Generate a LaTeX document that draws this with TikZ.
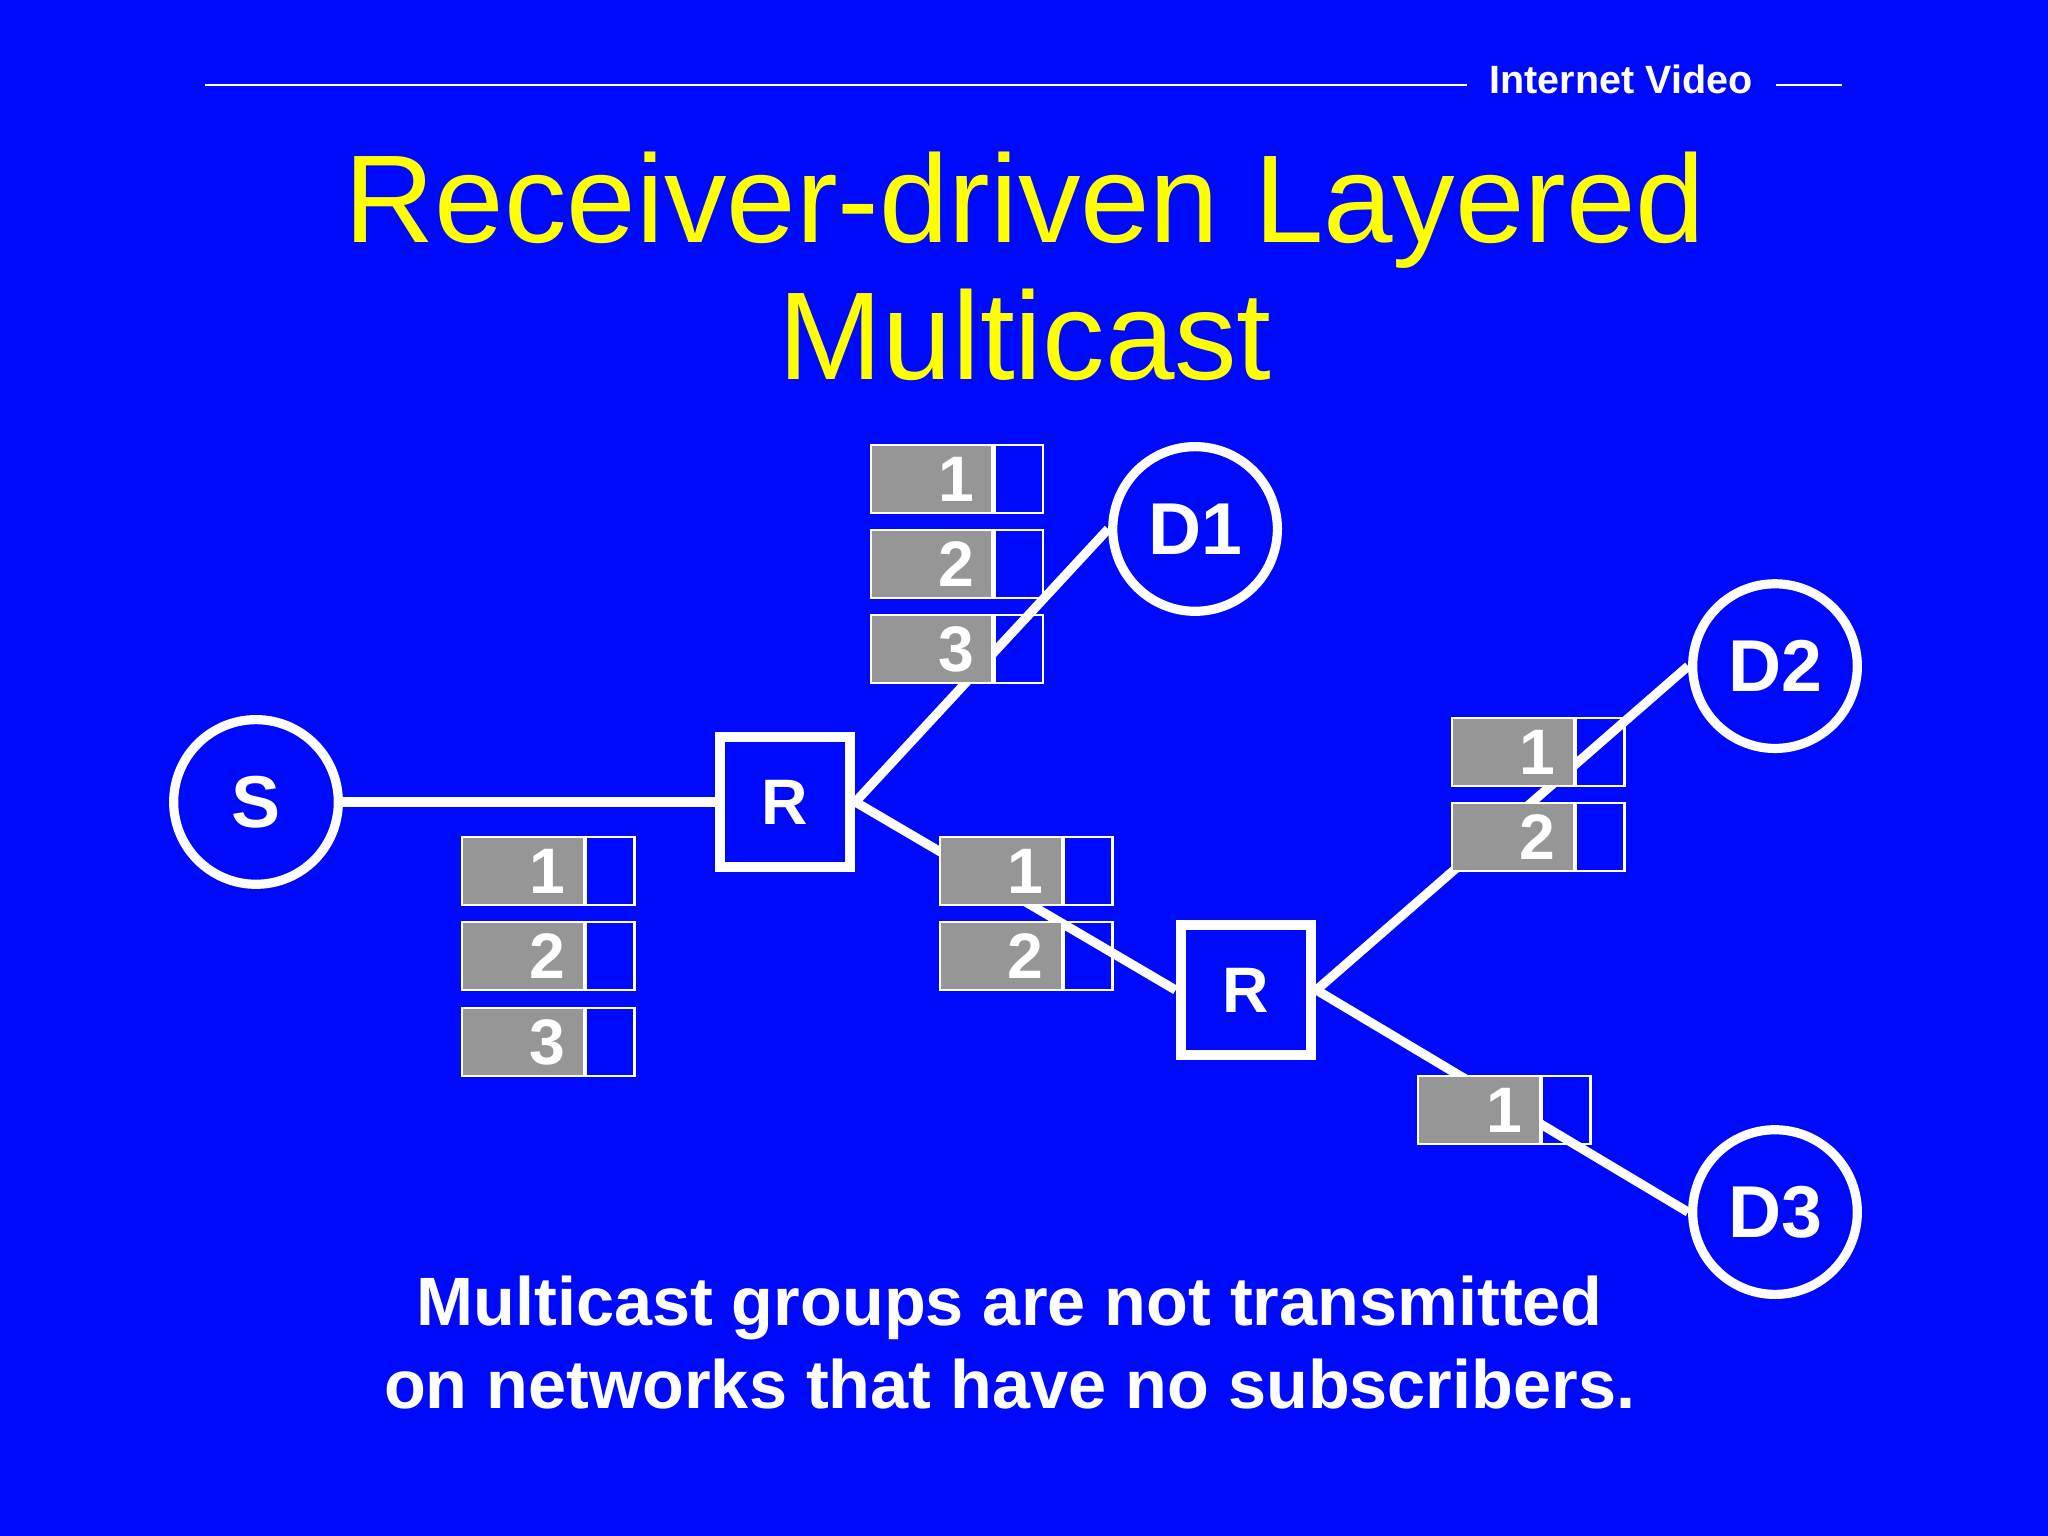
\documentclass[tikz,border=0pt]{standalone}
\usepackage{fontspec}
\setmainfont{Liberation Sans}
\definecolor{bg}{RGB}{0,10,250}
\definecolor{ttl}{RGB}{255,255,0}
\definecolor{pk}{RGB}{150,150,150}
\tikzset{
  ep/.style={circle,draw=white,line width=2pt,minimum size=1.26cm,inner sep=0pt,text=white,font=\bfseries\fontsize{16}{18}\selectfont},
  rt/.style={rectangle,draw=white,line width=2.2pt,minimum size=1.0cm,inner sep=0pt,text=white,font=\bfseries\fontsize{14}{18}\selectfont},
  lnk/.style={white,line width=2pt},
  pg/.style={rectangle,fill=pk,draw=white,line width=0.5pt,minimum width=0.93cm,minimum height=0.52cm,inner sep=0pt,anchor=north west,text=white,font=\bfseries\fontsize{14}{16}\selectfont},
  pe/.style={rectangle,draw=white,line width=0.5pt,minimum width=0.37cm,minimum height=0.52cm,inner sep=0pt,anchor=north west}
}
\newcommand{\pkt}[4]{%
  \node[pg] (#1g) at (#2,#3) {\hspace*{0.38cm}#4};
  \node[pe] (#1e) at (#1g.north east) {};}
\begin{document}
\begin{tikzpicture}[x=0.01cm,y=-0.01cm]
\fill[bg] (0,0) rectangle (1568,1176);
\useasboundingbox (0,0) rectangle (1568,1176);
\coordinate (h1) at (157,65); \coordinate (h2) at (1123,65);
\coordinate (h3) at (1360,65); \coordinate (h4) at (1410,65);
\draw[white,line width=0.6pt] (h1)--(h2) (h3)--(h4);
\node[text=white,font=\bfseries\fontsize{8.6}{10}\selectfont] (hdr) at (1241,61) {Internet Video};
\node[text=ttl,align=center,font=\fontsize{27.2}{30}\selectfont] (title) at (785,204) {Receiver-driven Layered\\Multicast};
\node[ep] (S) at (196,614) {S};
\node[rt] (R1) at (601,614) {R};
\node[rt] (R2) at (954,758) {R};
\node[ep] (D1) at (915,405) {D1};
\node[ep] (D2) at (1359,510) {D2};
\node[ep] (D3) at (1359,928) {D3};
\draw[lnk] (S)--(R1); \draw[lnk] (R1.east)--(D1.west); \draw[lnk] (R1.east)--(R2.west);
\draw[lnk] (R2.east)--(D2.west); \draw[lnk] (R2.east)--(D3.west);
\pkt{a1}{353}{640}{1}\pkt{a2}{353}{705}{2}\pkt{a3}{353}{771}{3}
\pkt{b1}{666}{340}{1}\pkt{b2}{666}{405}{2}\pkt{b3}{666}{470}{3}
\pkt{c1}{719}{640}{1}\pkt{c2}{719}{705}{2}
\pkt{d1}{1111}{549}{1}\pkt{d2}{1111}{614}{2}
\pkt{e1}{1085}{823}{1}
\node[text=white,align=center,font=\bfseries\fontsize{14.9}{18}\selectfont] (cap) at (773,1028) {Multicast groups are not transmitted\\on networks that have no subscribers.};
\end{tikzpicture}
\end{document}
